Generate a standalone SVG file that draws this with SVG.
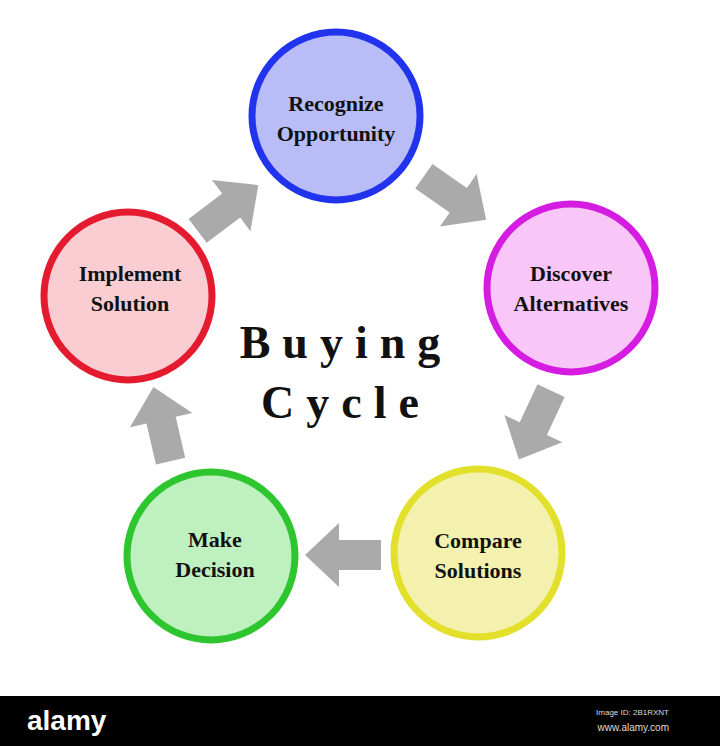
<svg xmlns="http://www.w3.org/2000/svg" width="720" height="746" viewBox="0 0 720 746">
<style>
.c{stroke-width:7}
.t{font-family:"Liberation Serif",serif;font-weight:bold;font-size:22px;fill:#111;text-anchor:middle}
.h{font-family:"Liberation Serif",serif;font-weight:bold;font-size:46px;fill:#111;text-anchor:middle;letter-spacing:12px}
.a{fill:#aaaaaa}
</style>
<defs><path id="ar" d="M-38,-15 L4,-15 L4,-32 L38,0 L4,32 L4,15 L-38,15 Z"/></defs>
<rect width="720" height="746" fill="#fff"/>
<g id="connectors">
<use href="#ar" class="a" transform="translate(455,198) rotate(35)"/>
<use href="#ar" class="a" transform="translate(535,425) rotate(115)"/>
<use href="#ar" class="a" transform="translate(343,555) rotate(180)"/>
<use href="#ar" class="a" transform="translate(162,424) rotate(-103)"/>
<use href="#ar" class="a" transform="translate(228,208) rotate(-37)"/>
</g>
<g id="recognize"><circle class="c" cx="336" cy="116" r="84" fill="#b9bdf7" stroke="#2233ee"/>
<text class="t" x="336" y="111">Recognize</text><text class="t" x="336" y="141">Opportunity</text></g>
<g id="discover"><circle class="c" cx="571" cy="288" r="84" fill="#f9c7f7" stroke="#d41de0"/>
<text class="t" x="571" y="281">Discover</text><text class="t" x="571" y="311">Alternatives</text></g>
<g id="compare"><circle class="c" cx="478" cy="553" r="84" fill="#f3f1ad" stroke="#e2e02a"/>
<text class="t" x="478" y="548">Compare</text><text class="t" x="478" y="578">Solutions</text></g>
<g id="make"><circle class="c" cx="211" cy="556" r="84" fill="#bff0c0" stroke="#2ec62e"/>
<text class="t" x="215" y="547">Make</text><text class="t" x="215" y="577">Decision</text></g>
<g id="implement"><circle class="c" cx="128" cy="296" r="84" fill="#f9cdd2" stroke="#e41a2e"/>
<text class="t" x="130" y="281">Implement</text><text class="t" x="130" y="311">Solution</text></g>
<g id="title"><text class="h" x="346" y="358">Buying</text><text class="h" x="346" y="418">Cycle</text></g>
<g id="bar"><rect x="0" y="696" width="720" height="50" fill="#000"/>
<text x="27" y="730" font-family="Liberation Sans Narrow,Liberation Sans,sans-serif" font-size="28" font-weight="bold" fill="#fff">alamy</text>
<text x="669" y="715" font-family="Liberation Sans,sans-serif" font-size="8" fill="#ddd" text-anchor="end">Image ID: 2B1RXNT</text>
<text x="669" y="731" font-family="Liberation Sans,sans-serif" font-size="10" fill="#ddd" text-anchor="end">www.alamy.com</text></g>
</svg>
